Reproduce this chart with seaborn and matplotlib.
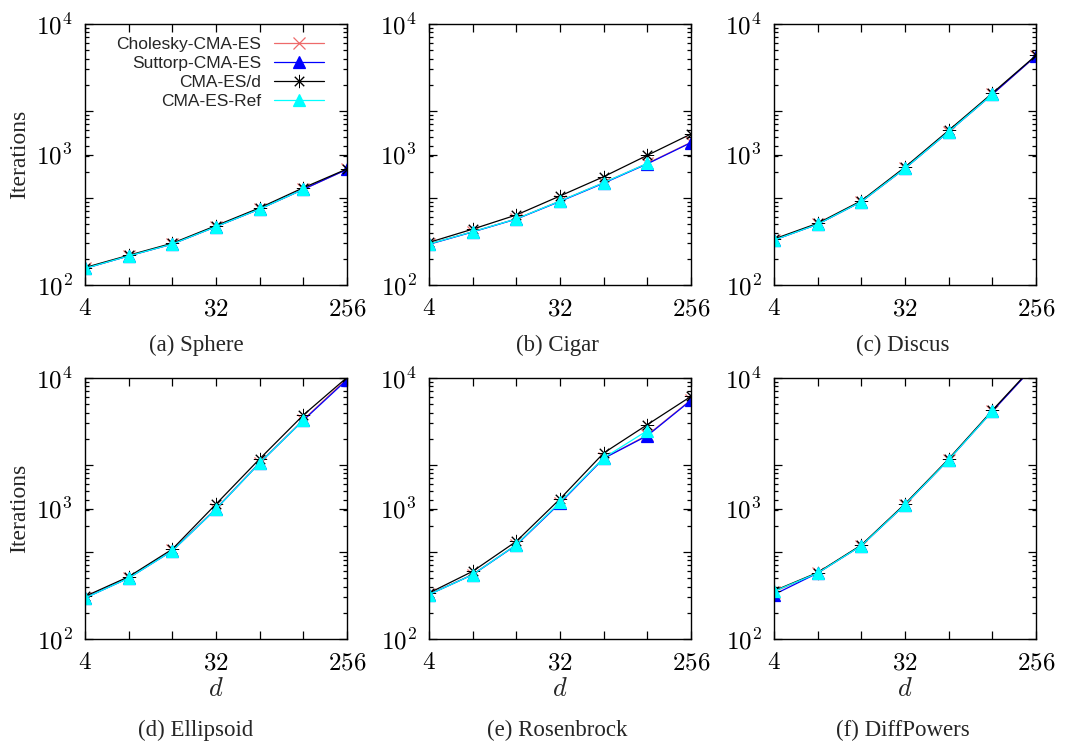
import numpy as np
import matplotlib
matplotlib.use("Agg")
import matplotlib.pyplot as plt
import matplotlib.ticker as mticker
import seaborn as sns

# ---------------- data ----------------
dims = [4, 8, 16, 32, 64, 128, 256]
series_names = ["Cholesky-CMA-ES", "Suttorp-CMA-ES", "CMA-ES/d", "CMA-ES-Ref"]
panel_titles = ["(a) Sphere", "(b) Cigar", "(c) Discus",
                "(d) Ellipsoid", "(e) Rosenbrock", "(f) DiffPowers"]
nan = np.nan

sphere_chol = [134, 167, 206, 280, 382, 541, 769]
sphere_sutt = [134, 167, 206, 280, 382, 541, 769]
sphere_cmad = [136, 169, 209, 285, 390, 556, 775]
sphere_ref = [134, 167, 206, 280, 382, 541, nan]

cigar_chol = [206, 256, 321, 440, 608, 855, 1240]
cigar_sutt = [205, 255, 320, 437, 603, 848, 1233]
cigar_cmad = [212, 268, 344, 481, 676, 986, 1436]
cigar_ref = [206, 256, 321, 440, 608, 855, nan]

discus_chol = [221, 292, 435, 783, 1496, 2891, 5692]
discus_sutt = [221, 292, 435, 783, 1496, 2891, 5692]
discus_cmad = [225, 297, 442, 800, 1530, 2950, 5750]
discus_ref = [221, 292, 435, 783, 1496, 2891, nan]

ellip_chol = [207, 295, 478, 1000, 2250, 4780, 9900]
ellip_sutt = [206, 293, 474, 991, 2232, 4742, 9700]
ellip_cmad = [212, 300, 488, 1080, 2400, 5200, 10100]
ellip_ref = [206, 293, 474, 991, 2232, 4742, nan]

rosen_chol = [220, 312, 528, 1110, 2430, 3650, 6800]
rosen_sutt = [219, 311, 525, 1100, 2420, 3614, 6745]
rosen_cmad = [225, 330, 560, 1183, 2661, 4390, 7230]
rosen_ref = [219, 311, 528, 1115, 2440, 3950, nan]

diffp_chol = [230, 320, 520, 1070, 2370, 5580, 12800]
diffp_sutt = [219, 320, 519, 1069, 2366, 5560, 12800]
diffp_cmad = [234, 323, 525, 1085, 2400, 5650, 13000]
diffp_ref = [232, 320, 519, 1069, 2366, 5560, nan]

panels = [
    [sphere_chol, sphere_sutt, sphere_cmad, sphere_ref],
    [cigar_chol, cigar_sutt, cigar_cmad, cigar_ref],
    [discus_chol, discus_sutt, discus_cmad, discus_ref],
    [ellip_chol, ellip_sutt, ellip_cmad, ellip_ref],
    [rosen_chol, rosen_sutt, rosen_cmad, rosen_ref],
    [diffp_chol, diffp_sutt, diffp_cmad, diffp_ref],
]

# ---------------- style ----------------
sns.set_style("ticks")
plt.rcParams["font.family"] = ["Liberation Serif", "DejaVu Serif"]
plt.rcParams["mathtext.fontset"] = "cm"

colors = ["#ee6a6a", "#0000ff", "#000000", "#00ffff"]
markers = ["x", "^", (8, 2, 0), "^"]
msizes = [8.5, 8, 9.5, 8.5]
mews = [0.9, 0.9, 0.7, 0.9]

W, H = 1068, 748
fig = plt.figure(figsize=(W / 100, H / 100), dpi=100)

lefts = [85, 429, 774]
tops = [24, 378]
aw, ah = 262, 261
caption_x = [196, 557, 903]
caption_y = [345, 730]

# pseudo-decade minor tick positions (style only)
long_ticks = [10 ** (2 + 2 * k / 3) for k in (1, 2)]
minor_ticks = [10 ** (2 + 2 * (k + np.log10(m)) / 3) for k in range(3) for m in range(2, 10)]

for i, data in enumerate(panels):
    r, c = divmod(i, 3)
    ax = fig.add_axes([lefts[c] / W, 1 - (tops[r] + ah) / H, aw / W, ah / H])
    for j, vals in enumerate(data):
        sns.lineplot(x=dims, y=vals, ax=ax, color=colors[j], marker=markers[j],
                     markersize=msizes[j], linewidth=0.9, markeredgewidth=mews[j],
                     markeredgecolor=colors[j],
                     label=series_names[j] if i == 0 else None, legend=False)
    ax.set_xscale("log", base=2)
    ax.set_yscale("log")
    ax.set_xlim(4, 256)
    ax.set_ylim(100, 10000)

    ax.xaxis.set_major_locator(mticker.FixedLocator(dims))
    ax.xaxis.set_major_formatter(mticker.FixedFormatter(
        [r"$%d$" % v if v in (4, 32, 256) else "" for v in dims]))
    ax.xaxis.set_minor_locator(mticker.NullLocator())

    ymaj = [100, long_ticks[0], 1000, long_ticks[1], 10000]
    ax.yaxis.set_major_locator(mticker.FixedLocator(ymaj))
    ax.yaxis.set_major_formatter(mticker.FixedFormatter(
        [r"$10^{2}$", "", r"$10^{3}$", "", r"$10^{4}$"]))
    ax.yaxis.set_minor_locator(mticker.FixedLocator(minor_ticks))
    ax.yaxis.set_minor_formatter(mticker.NullFormatter())

    ax.tick_params(axis="both", which="both", direction="in", top=True, right=True,
                   width=0.9, colors="black")
    ax.tick_params(axis="x", which="major", length=5.5, pad=9.5, labelsize=18)
    ax.tick_params(axis="y", which="major", length=5.5, pad=9, labelsize=18)
    ax.tick_params(axis="y", which="minor", length=2.8)
    for s in ax.spines.values():
        s.set_linewidth(1.0)
        s.set_color("black")
    ax.set_xlabel("")
    ax.set_ylabel("")

    if c == 0:
        ax.set_ylabel("Iterations", fontsize=17, labelpad=4)
    if r == 1:
        ax.set_xlabel(r"$d$", fontsize=19, labelpad=3)

    fig.text(caption_x[c] / W, 1 - caption_y[r] / H, panel_titles[i],
             ha="center", va="center", fontsize=16.5)

    if i == 0:
        ax.legend(loc="upper right", bbox_to_anchor=((324 - 85) / aw, (285 - 37) / ah),
                  frameon=False, markerfirst=False, borderpad=0, borderaxespad=0,
                  labelspacing=0.22, handlelength=2.9, handletextpad=0.7,
                  numpoints=1, prop={"family": "Liberation Sans", "size": 12.5})

fig.savefig("out.png", dpi=100)
